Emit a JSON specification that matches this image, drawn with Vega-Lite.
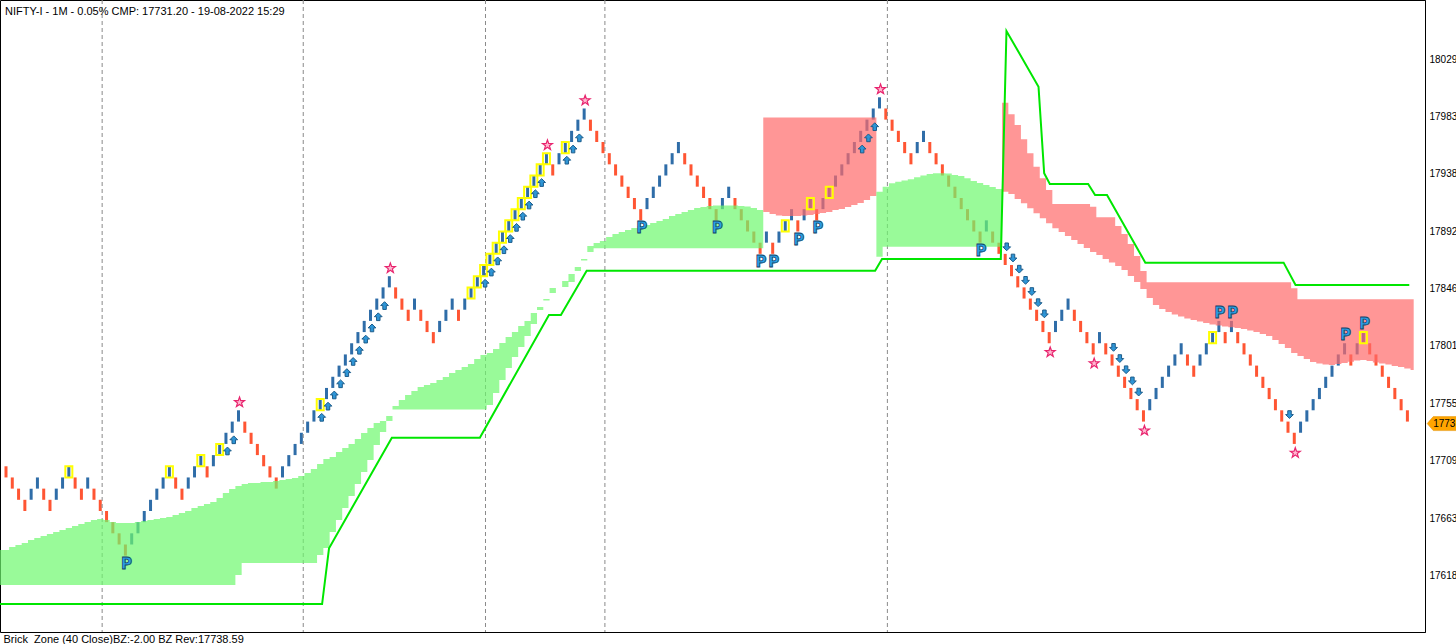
{
 "$schema": "https://vega.github.io/schema/vega-lite/v6.json",
 "width": 1425,
 "height": 632,
 "autosize": {"type": "none"},
 "padding": {"left": 0, "top": 0, "right": 31, "bottom": 12},
 "background": "#ffffff",
 "title": {"text": "NIFTY-I - 1M - 0.05% CMP: 17731.20 - 19-08-2022 15:29", "anchor": "start", "frame": "group", "orient": "top", "offset": 0, "baseline": "top", "dy": 17, "dx": 5, "font": "Liberation Sans", "fontSize": 11, "fontWeight": "normal", "color": "#000000"},
 "config": {"view": {"stroke": "#000000", "strokeWidth": 1}},
 "datasets": {
  "seps": [{"i": 15.3}, {"i": 47.3}, {"i": 76.3}, {"i": 95.3}, {"i": 140.25}],
  "cmp": [{"i": 227.1, "v": 17738.59, "t": "1773"}],
  "line": [{"i":-1,"v":17594.9},{"i":50.3,"v":17594.9},{"i":51.4,"v":17639.3},{"i":61.4,"v":17727.4},{"i":75.4,"v":17727.4},{"i":86.4,"v":17825.1},{"i":88.3,"v":17825.1},{"i":92.4,"v":17860.4},{"i":138.3,"v":17860.4},{"i":139.4,"v":17869.7},{"i":158.3,"v":17869.7},{"i":159.2,"v":18051.3},{"i":164.3,"v":18006.9},{"i":165.2,"v":17938.0},{"i":166.1,"v":17929.4},{"i":172.2,"v":17929.4},{"i":173.3,"v":17920.7},{"i":175.2,"v":17920.7},{"i":181.3,"v":17866.8},{"i":203.3,"v":17866.8},{"i":205.2,"v":17849.0},{"i":223.3,"v":17849.0}],
  "bricks": [
{"i":0,"o":17704.6,"c":17695.7},{"i":1,"o":17695.7,"c":17686.8},{"i":2,"o":17686.8,"c":17677.9},{"i":3,"o":17677.9,"c":17669.0},{"i":4,"o":17677.9,"c":17686.8},{"i":5,"o":17686.8,"c":17695.7},{"i":6,"o":17686.8,"c":17677.9},{"i":7,"o":17677.9,"c":17669.0},{"i":8,"o":17677.9,"c":17686.8},{"i":9,"o":17686.8,"c":17695.7},
{"i":10,"o":17695.7,"c":17704.6,"b":1},{"i":11,"o":17695.7,"c":17686.8},{"i":12,"o":17686.8,"c":17677.9},{"i":13,"o":17686.8,"c":17695.7},{"i":14,"o":17686.8,"c":17677.9},{"i":15,"o":17677.9,"c":17669.0},{"i":16,"o":17669.0,"c":17660.1},{"i":17,"o":17660.1,"c":17651.2},{"i":18,"o":17651.2,"c":17642.3},{"i":19,"o":17642.3,"c":17633.4,"m":"pb"},
{"i":20,"o":17642.3,"c":17651.2},{"i":21,"o":17651.2,"c":17660.1},{"i":22,"o":17660.1,"c":17669.0},{"i":23,"o":17669.0,"c":17677.9},{"i":24,"o":17677.9,"c":17686.8},{"i":25,"o":17686.8,"c":17695.7},{"i":26,"o":17695.7,"c":17704.6,"b":1},{"i":27,"o":17695.7,"c":17686.8},{"i":28,"o":17686.8,"c":17677.9},{"i":29,"o":17686.8,"c":17695.7},
{"i":30,"o":17695.7,"c":17704.6},{"i":31,"o":17704.6,"c":17713.5,"b":1},{"i":32,"o":17704.6,"c":17695.7},{"i":33,"o":17704.6,"c":17713.5},{"i":34,"o":17713.5,"c":17722.4,"b":1},{"i":35,"o":17722.4,"c":17731.3,"m":"ua"},{"i":36,"o":17731.3,"c":17740.2,"m":"ua"},{"i":37,"o":17740.2,"c":17749.2,"m":"st"},{"i":38,"o":17740.2,"c":17731.3},{"i":39,"o":17731.3,"c":17722.4},
{"i":40,"o":17722.4,"c":17713.5},{"i":41,"o":17713.5,"c":17704.6},{"i":42,"o":17704.6,"c":17695.7},{"i":43,"o":17695.7,"c":17686.8},{"i":44,"o":17695.7,"c":17704.6},{"i":45,"o":17704.6,"c":17713.5},{"i":46,"o":17713.5,"c":17722.4},{"i":47,"o":17722.4,"c":17731.3},{"i":48,"o":17731.3,"c":17740.2},{"i":49,"o":17740.2,"c":17749.2},
{"i":50,"o":17749.2,"c":17758.1,"b":1,"m":"ua"},{"i":51,"o":17758.1,"c":17767.0,"m":"ua"},{"i":52,"o":17767.0,"c":17775.9,"m":"ua"},{"i":53,"o":17775.9,"c":17784.8,"m":"ua"},{"i":54,"o":17784.8,"c":17793.7,"m":"ua"},{"i":55,"o":17793.7,"c":17802.6,"m":"ua"},{"i":56,"o":17802.6,"c":17811.5,"m":"ua"},{"i":57,"o":17811.5,"c":17820.4,"m":"ua"},{"i":58,"o":17820.4,"c":17829.3,"m":"ua"},{"i":59,"o":17829.3,"c":17838.2,"m":"ua"},
{"i":60,"o":17838.2,"c":17847.1,"m":"ua"},{"i":61,"o":17847.1,"c":17856.0,"m":"st"},{"i":62,"o":17847.1,"c":17838.2},{"i":63,"o":17838.2,"c":17829.3},{"i":64,"o":17829.3,"c":17820.4},{"i":65,"o":17829.3,"c":17838.2},{"i":66,"o":17829.3,"c":17820.4},{"i":67,"o":17820.4,"c":17811.5},{"i":68,"o":17811.5,"c":17802.6},{"i":69,"o":17811.5,"c":17820.4},
{"i":70,"o":17820.4,"c":17829.3},{"i":71,"o":17829.3,"c":17838.2},{"i":72,"o":17829.3,"c":17820.4},{"i":73,"o":17829.3,"c":17838.2},{"i":74,"o":17838.2,"c":17847.1,"b":1},{"i":75,"o":17847.1,"c":17856.0,"b":1},{"i":76,"o":17856.0,"c":17864.9,"b":1,"m":"ua"},{"i":77,"o":17864.9,"c":17873.8,"b":1,"m":"ua"},{"i":78,"o":17873.8,"c":17882.7,"b":1,"m":"ua"},{"i":79,"o":17882.7,"c":17891.6,"b":1,"m":"ua"},
{"i":80,"o":17891.6,"c":17900.5,"b":1,"m":"ua"},{"i":81,"o":17900.5,"c":17909.4,"b":1,"m":"ua"},{"i":82,"o":17909.4,"c":17918.3,"b":1,"m":"ua"},{"i":83,"o":17918.3,"c":17927.3,"b":1,"m":"ua"},{"i":84,"o":17927.3,"c":17936.2,"b":1,"m":"ua"},{"i":85,"o":17936.2,"c":17945.1,"b":1,"m":"ua"},{"i":86,"o":17945.1,"c":17954.0,"b":1,"m":"st"},{"i":87,"o":17945.1,"c":17936.2},{"i":88,"o":17945.1,"c":17954.0},{"i":89,"o":17954.0,"c":17962.9,"b":1,"m":"ua"},
{"i":90,"o":17962.9,"c":17971.8,"m":"ua"},{"i":91,"o":17971.8,"c":17980.7,"m":"ua"},{"i":92,"o":17980.7,"c":17989.6,"m":"st"},{"i":93,"o":17980.7,"c":17971.8},{"i":94,"o":17971.8,"c":17962.9},{"i":95,"o":17962.9,"c":17954.0},{"i":96,"o":17954.0,"c":17945.1},{"i":97,"o":17945.1,"c":17936.2},{"i":98,"o":17936.2,"c":17927.3},{"i":99,"o":17927.3,"c":17918.3},
{"i":100,"o":17918.3,"c":17909.4},{"i":101,"o":17909.4,"c":17900.5,"m":"pb"},{"i":102,"o":17909.4,"c":17918.3},{"i":103,"o":17918.3,"c":17927.3},{"i":104,"o":17927.3,"c":17936.2},{"i":105,"o":17936.2,"c":17945.1},{"i":106,"o":17945.1,"c":17954.0},{"i":107,"o":17954.0,"c":17962.9},{"i":108,"o":17954.0,"c":17945.1},{"i":109,"o":17945.1,"c":17936.2},
{"i":110,"o":17936.2,"c":17927.3},{"i":111,"o":17927.3,"c":17918.3},{"i":112,"o":17918.3,"c":17909.4},{"i":113,"o":17909.4,"c":17900.5,"m":"pb"},{"i":114,"o":17909.4,"c":17918.3},{"i":115,"o":17918.3,"c":17927.3},{"i":116,"o":17918.3,"c":17909.4},{"i":117,"o":17909.4,"c":17900.5},{"i":118,"o":17900.5,"c":17891.6},{"i":119,"o":17891.6,"c":17882.7},
{"i":120,"o":17882.7,"c":17873.8,"m":"pb"},{"i":121,"o":17882.7,"c":17891.6},{"i":122,"o":17882.7,"c":17873.8,"m":"pb"},{"i":123,"o":17882.7,"c":17891.6},{"i":124,"o":17891.6,"c":17900.5,"b":1},{"i":125,"o":17900.5,"c":17909.4},{"i":126,"o":17900.5,"c":17891.6,"m":"pb"},{"i":127,"o":17900.5,"c":17909.4},{"i":128,"o":17909.4,"c":17918.3,"b":1},{"i":129,"o":17909.4,"c":17900.5,"m":"pb"},
{"i":130,"o":17909.4,"c":17918.3},{"i":131,"o":17918.3,"c":17927.3,"b":1},{"i":132,"o":17927.3,"c":17936.2},{"i":133,"o":17936.2,"c":17945.1},{"i":134,"o":17945.1,"c":17954.0},{"i":135,"o":17954.0,"c":17962.9},{"i":136,"o":17962.9,"c":17971.8,"m":"ua"},{"i":137,"o":17971.8,"c":17980.7,"m":"ua"},{"i":138,"o":17980.7,"c":17989.6,"m":"ua"},{"i":139,"o":17989.6,"c":17998.5,"m":"st"},
{"i":140,"o":17989.6,"c":17980.7},{"i":141,"o":17980.7,"c":17971.8},{"i":142,"o":17971.8,"c":17962.9},{"i":143,"o":17962.9,"c":17954.0},{"i":144,"o":17954.0,"c":17945.1},{"i":145,"o":17954.0,"c":17962.9},{"i":146,"o":17962.9,"c":17971.8},{"i":147,"o":17962.9,"c":17954.0},{"i":148,"o":17954.0,"c":17945.1},{"i":149,"o":17945.1,"c":17936.2},
{"i":150,"o":17936.2,"c":17927.3},{"i":151,"o":17927.3,"c":17918.3},{"i":152,"o":17918.3,"c":17909.4},{"i":153,"o":17909.4,"c":17900.5},{"i":154,"o":17900.5,"c":17891.6},{"i":155,"o":17891.6,"c":17882.7,"m":"pb"},{"i":156,"o":17891.6,"c":17900.5},{"i":157,"o":17891.6,"c":17882.7},{"i":158,"o":17882.7,"c":17873.8},{"i":159,"o":17873.8,"c":17864.9,"m":"da"},
{"i":160,"o":17864.9,"c":17856.0,"m":"da"},{"i":161,"o":17856.0,"c":17847.1,"m":"da"},{"i":162,"o":17847.1,"c":17838.2,"m":"da"},{"i":163,"o":17838.2,"c":17829.3,"m":"da"},{"i":164,"o":17829.3,"c":17820.4,"m":"da"},{"i":165,"o":17820.4,"c":17811.5,"m":"da"},{"i":166,"o":17811.5,"c":17802.6,"m":"sb"},{"i":167,"o":17811.5,"c":17820.4},{"i":168,"o":17820.4,"c":17829.3},{"i":169,"o":17829.3,"c":17838.2},
{"i":170,"o":17829.3,"c":17820.4},{"i":171,"o":17820.4,"c":17811.5},{"i":172,"o":17811.5,"c":17802.6},{"i":173,"o":17802.6,"c":17793.7,"m":"sb"},{"i":174,"o":17802.6,"c":17811.5},{"i":175,"o":17802.6,"c":17793.7},{"i":176,"o":17793.7,"c":17784.8,"m":"da"},{"i":177,"o":17784.8,"c":17775.9,"m":"da"},{"i":178,"o":17775.9,"c":17767.0,"m":"da"},{"i":179,"o":17767.0,"c":17758.1,"m":"da"},
{"i":180,"o":17758.1,"c":17749.2,"m":"da"},{"i":181,"o":17749.2,"c":17740.2,"m":"sb"},{"i":182,"o":17749.2,"c":17758.1},{"i":183,"o":17758.1,"c":17767.0},{"i":184,"o":17767.0,"c":17775.9},{"i":185,"o":17775.9,"c":17784.8},{"i":186,"o":17784.8,"c":17793.7},{"i":187,"o":17793.7,"c":17802.6},{"i":188,"o":17793.7,"c":17784.8},{"i":189,"o":17784.8,"c":17775.9},
{"i":190,"o":17784.8,"c":17793.7},{"i":191,"o":17793.7,"c":17802.6},{"i":192,"o":17802.6,"c":17811.5,"b":1},{"i":193,"o":17811.5,"c":17820.4,"m":"pt"},{"i":194,"o":17811.5,"c":17802.6},{"i":195,"o":17811.5,"c":17820.4,"m":"pt"},{"i":196,"o":17811.5,"c":17802.6},{"i":197,"o":17802.6,"c":17793.7},{"i":198,"o":17793.7,"c":17784.8},{"i":199,"o":17784.8,"c":17775.9},
{"i":200,"o":17775.9,"c":17767.0},{"i":201,"o":17767.0,"c":17758.1},{"i":202,"o":17758.1,"c":17749.2},{"i":203,"o":17749.2,"c":17740.2},{"i":204,"o":17740.2,"c":17731.3,"m":"da"},{"i":205,"o":17731.3,"c":17722.4,"m":"sb"},{"i":206,"o":17731.3,"c":17740.2},{"i":207,"o":17740.2,"c":17749.2},{"i":208,"o":17749.2,"c":17758.1},{"i":209,"o":17758.1,"c":17767.0},
{"i":210,"o":17767.0,"c":17775.9},{"i":211,"o":17775.9,"c":17784.8},{"i":212,"o":17784.8,"c":17793.7},{"i":213,"o":17793.7,"c":17802.6,"m":"pt"},{"i":214,"o":17793.7,"c":17784.8},{"i":215,"o":17793.7,"c":17802.6},{"i":216,"o":17802.6,"c":17811.5,"b":1,"m":"pt"},{"i":217,"o":17802.6,"c":17793.7},{"i":218,"o":17793.7,"c":17784.8},{"i":219,"o":17784.8,"c":17775.9},
{"i":220,"o":17775.9,"c":17767.0},{"i":221,"o":17767.0,"c":17758.1},{"i":222,"o":17758.1,"c":17749.2},{"i":223,"o":17749.2,"c":17740.2}
  ],
  "zones": [
{"i":-1,"lo":17610.0,"hi":17637.9,"z":"g","s":1},{"i":0,"lo":17610.0,"hi":17637.9,"z":"g","s":1},{"i":1,"lo":17610.0,"hi":17640.3,"z":"g","s":1},{"i":2,"lo":17610.0,"hi":17641.9,"z":"g","s":1},{"i":3,"lo":17610.0,"hi":17643.5,"z":"g","s":1},{"i":4,"lo":17610.0,"hi":17645.9,"z":"g","s":1},{"i":5,"lo":17610.0,"hi":17647.5,"z":"g","s":1},{"i":6,"lo":17610.0,"hi":17649.1,"z":"g","s":1},{"i":7,"lo":17610.0,"hi":17650.7,"z":"g","s":1},{"i":8,"lo":17610.0,"hi":17652.3,"z":"g","s":1},{"i":9,"lo":17610.0,"hi":17653.9,"z":"g","s":1},
{"i":10,"lo":17610.0,"hi":17655.4,"z":"g","s":1},{"i":11,"lo":17610.0,"hi":17657.0,"z":"g","s":1},{"i":12,"lo":17610.0,"hi":17658.6,"z":"g","s":1},{"i":13,"lo":17610.0,"hi":17660.2,"z":"g","s":1},{"i":14,"lo":17610.0,"hi":17661.8,"z":"g","s":1},{"i":15,"lo":17610.0,"hi":17662.6,"z":"g","s":1},{"i":16,"lo":17610.0,"hi":17661.8,"z":"g","s":1},{"i":17,"lo":17610.0,"hi":17660.2,"z":"g","s":1},{"i":18,"lo":17610.0,"hi":17659.4,"z":"g","s":1},{"i":19,"lo":17610.0,"hi":17659.4,"z":"g","s":1},
{"i":20,"lo":17610.0,"hi":17659.4,"z":"g","s":1},{"i":21,"lo":17610.0,"hi":17660.2,"z":"g","s":1},{"i":22,"lo":17610.0,"hi":17661.0,"z":"g","s":1},{"i":23,"lo":17610.0,"hi":17661.8,"z":"g","s":1},{"i":24,"lo":17610.0,"hi":17662.6,"z":"g","s":1},{"i":25,"lo":17610.0,"hi":17663.4,"z":"g","s":1},{"i":26,"lo":17610.0,"hi":17664.2,"z":"g","s":1},{"i":27,"lo":17610.0,"hi":17665.8,"z":"g","s":1},{"i":28,"lo":17610.0,"hi":17667.4,"z":"g","s":1},{"i":29,"lo":17610.0,"hi":17669.0,"z":"g","s":1},
{"i":30,"lo":17610.0,"hi":17671.4,"z":"g","s":1},{"i":31,"lo":17610.0,"hi":17673.0,"z":"g","s":1},{"i":32,"lo":17610.0,"hi":17674.6,"z":"g","s":1},{"i":33,"lo":17610.0,"hi":17676.2,"z":"g","s":1},{"i":34,"lo":17610.0,"hi":17679.3,"z":"g","s":1},{"i":35,"lo":17610.0,"hi":17683.3,"z":"g","s":1},{"i":36,"lo":17610.0,"hi":17686.5,"z":"g","s":1},{"i":37,"lo":17618.0,"hi":17688.9,"z":"g","s":1},{"i":38,"lo":17627.6,"hi":17690.5,"z":"g","s":1},{"i":39,"lo":17627.6,"hi":17691.3,"z":"g","s":1},
{"i":40,"lo":17627.6,"hi":17691.3,"z":"g","s":1},{"i":41,"lo":17627.6,"hi":17692.1,"z":"g","s":1},{"i":42,"lo":17627.6,"hi":17692.1,"z":"g","s":1},{"i":43,"lo":17627.6,"hi":17692.9,"z":"g","s":1},{"i":44,"lo":17627.6,"hi":17693.7,"z":"g","s":1},{"i":45,"lo":17627.6,"hi":17694.5,"z":"g","s":1},{"i":46,"lo":17627.6,"hi":17695.3,"z":"g","s":1},{"i":47,"lo":17627.6,"hi":17696.9,"z":"g","s":1},{"i":48,"lo":17627.6,"hi":17699.3,"z":"g","s":1},{"i":49,"lo":17627.6,"hi":17702.4,"z":"g","s":1},
{"i":50,"lo":17633.9,"hi":17706.4,"z":"g","s":1},{"i":51,"lo":17639.5,"hi":17710.4,"z":"g","s":1},{"i":52,"lo":17652.3,"hi":17712.0,"z":"g","s":1},{"i":53,"lo":17661.8,"hi":17716.0,"z":"g","s":1},{"i":54,"lo":17671.4,"hi":17719.2,"z":"g","s":1},{"i":55,"lo":17680.9,"hi":17722.4,"z":"g","s":1},{"i":56,"lo":17690.5,"hi":17726.3,"z":"g","s":1},{"i":57,"lo":17700.1,"hi":17731.1,"z":"g","s":1},{"i":58,"lo":17709.6,"hi":17735.1,"z":"g","s":1},{"i":59,"lo":17721.6,"hi":17739.1,"z":"g","s":1},
{"i":60,"lo":17731.9,"hi":17740.7,"z":"g","s":1},{"i":61,"lo":17740.7,"hi":17744.7,"z":"g","s":1},{"i":62,"lo":17749.8,"hi":17752.6,"z":"g","s":1},{"i":63,"lo":17749.8,"hi":17757.4,"z":"g","s":1},{"i":64,"lo":17749.8,"hi":17761.4,"z":"g","s":1},{"i":65,"lo":17749.8,"hi":17764.6,"z":"g","s":1},{"i":66,"lo":17749.8,"hi":17767.8,"z":"g","s":1},{"i":67,"lo":17749.8,"hi":17769.3,"z":"g","s":1},{"i":68,"lo":17749.8,"hi":17770.9,"z":"g","s":1},{"i":69,"lo":17749.8,"hi":17773.3,"z":"g","s":1},
{"i":70,"lo":17749.8,"hi":17775.7,"z":"g","s":1},{"i":71,"lo":17749.8,"hi":17778.9,"z":"g","s":1},{"i":72,"lo":17749.8,"hi":17781.3,"z":"g","s":1},{"i":73,"lo":17749.8,"hi":17783.7,"z":"g","s":1},{"i":74,"lo":17749.8,"hi":17786.1,"z":"g","s":1},{"i":75,"lo":17749.8,"hi":17790.1,"z":"g","s":1},{"i":76,"lo":17749.8,"hi":17793.2,"z":"g","s":1},{"i":77,"lo":17753.4,"hi":17794.8,"z":"g","s":1},{"i":78,"lo":17763.0,"hi":17798.0,"z":"g","s":1},{"i":79,"lo":17773.3,"hi":17802.8,"z":"g","s":1},
{"i":80,"lo":17782.9,"hi":17807.6,"z":"g","s":1},{"i":81,"lo":17791.6,"hi":17811.6,"z":"g","s":1},{"i":82,"lo":17799.6,"hi":17816.3,"z":"g","s":1},{"i":83,"lo":17808.4,"hi":17820.3,"z":"g","s":1},{"i":84,"lo":17817.9,"hi":17826.7,"z":"g","s":1},{"i":85,"lo":17829.1,"hi":17831.5,"z":"g","s":1},{"i":86,"lo":17836.6,"hi":17837.8,"z":"g","s":1},{"i":87,"lo":17842.6,"hi":17846.6,"z":"g","s":1},{"i":87.5,"lo":17842.6,"hi":17846.6,"z":"g","s":1},
{"i":88.5,"lo":17847.4,"hi":17852.2,"z":"g","s":2},{"i":89,"lo":17847.4,"hi":17852.2,"z":"g","s":2},{"i":90,"lo":17851.4,"hi":17857.8,"z":"g","s":2},{"i":91,"lo":17860.1,"hi":17863.3,"z":"g","s":2},{"i":92,"lo":17868.5,"hi":17869.7,"z":"g","s":2},{"i":93,"lo":17875.3,"hi":17880.1,"z":"g","s":2},{"i":94,"lo":17878.2,"hi":17882.5,"z":"g","s":2},{"i":95,"lo":17878.2,"hi":17884.0,"z":"g","s":2},{"i":96,"lo":17878.2,"hi":17887.2,"z":"g","s":2},{"i":97,"lo":17878.2,"hi":17889.6,"z":"g","s":2},{"i":98,"lo":17878.2,"hi":17891.2,"z":"g","s":2},{"i":99,"lo":17878.2,"hi":17892.8,"z":"g","s":2},
{"i":100,"lo":17878.2,"hi":17894.4,"z":"g","s":2},{"i":101,"lo":17878.2,"hi":17896.0,"z":"g","s":2},{"i":102,"lo":17878.2,"hi":17896.8,"z":"g","s":2},{"i":103,"lo":17878.2,"hi":17898.4,"z":"g","s":2},{"i":104,"lo":17878.2,"hi":17900.0,"z":"g","s":2},{"i":105,"lo":17878.2,"hi":17901.6,"z":"g","s":2},{"i":106,"lo":17878.2,"hi":17904.0,"z":"g","s":2},{"i":107,"lo":17878.2,"hi":17905.5,"z":"g","s":2},{"i":108,"lo":17878.2,"hi":17907.1,"z":"g","s":2},{"i":109,"lo":17878.2,"hi":17908.7,"z":"g","s":2},
{"i":110,"lo":17878.2,"hi":17910.3,"z":"g","s":2},{"i":111,"lo":17878.2,"hi":17911.1,"z":"g","s":2},{"i":112,"lo":17878.2,"hi":17911.9,"z":"g","s":2},{"i":113,"lo":17878.2,"hi":17912.3,"z":"g","s":2},{"i":114,"lo":17878.2,"hi":17912.3,"z":"g","s":2},{"i":115,"lo":17878.2,"hi":17912.3,"z":"g","s":2},{"i":116,"lo":17878.2,"hi":17912.3,"z":"g","s":2},{"i":117,"lo":17878.2,"hi":17911.9,"z":"g","s":2},{"i":118,"lo":17878.2,"hi":17911.5,"z":"g","s":2},{"i":119,"lo":17878.2,"hi":17910.3,"z":"g","s":2},{"i":120,"lo":17878.2,"hi":17908.7,"z":"g","s":2},{"i":120.5,"lo":17878.2,"hi":17908.7,"z":"g","s":2},
{"i":120.5,"lo":17907.1,"hi":17982.4,"z":"r","s":3},{"i":121,"lo":17907.1,"hi":17982.4,"z":"r","s":3},{"i":122,"lo":17905.5,"hi":17982.4,"z":"r","s":3},{"i":123,"lo":17904.4,"hi":17982.4,"z":"r","s":3},{"i":124,"lo":17904.0,"hi":17982.4,"z":"r","s":3},{"i":125,"lo":17904.0,"hi":17982.4,"z":"r","s":3},{"i":126,"lo":17904.0,"hi":17982.4,"z":"r","s":3},{"i":127,"lo":17904.4,"hi":17982.4,"z":"r","s":3},{"i":128,"lo":17904.8,"hi":17982.4,"z":"r","s":3},{"i":129,"lo":17905.5,"hi":17982.4,"z":"r","s":3},
{"i":130,"lo":17906.3,"hi":17982.4,"z":"r","s":3},{"i":131,"lo":17907.1,"hi":17982.4,"z":"r","s":3},{"i":132,"lo":17908.7,"hi":17982.4,"z":"r","s":3},{"i":133,"lo":17909.5,"hi":17982.4,"z":"r","s":3},{"i":134,"lo":17911.1,"hi":17982.4,"z":"r","s":3},{"i":135,"lo":17912.7,"hi":17982.4,"z":"r","s":3},{"i":136,"lo":17914.3,"hi":17982.4,"z":"r","s":3},{"i":137,"lo":17916.7,"hi":17982.4,"z":"r","s":3},{"i":138,"lo":17919.9,"hi":17982.4,"z":"r","s":3},{"i":138.5,"lo":17919.9,"hi":17982.4,"z":"r","s":3},
{"i":138.5,"lo":17871.5,"hi":17923.3,"z":"g","s":4},{"i":139,"lo":17871.5,"hi":17923.3,"z":"g","s":4},{"i":140,"lo":17879.5,"hi":17927.3,"z":"g","s":4},{"i":141,"lo":17879.5,"hi":17930.0,"z":"g","s":4},{"i":142,"lo":17879.5,"hi":17931.3,"z":"g","s":4},{"i":143,"lo":17879.5,"hi":17932.2,"z":"g","s":4},{"i":144,"lo":17879.5,"hi":17933.2,"z":"g","s":4},{"i":145,"lo":17879.5,"hi":17934.8,"z":"g","s":4},{"i":146,"lo":17879.5,"hi":17936.2,"z":"g","s":4},{"i":147,"lo":17879.5,"hi":17937.4,"z":"g","s":4},{"i":148,"lo":17879.5,"hi":17938.0,"z":"g","s":4},{"i":149,"lo":17879.5,"hi":17938.0,"z":"g","s":4},
{"i":150,"lo":17879.5,"hi":17937.8,"z":"g","s":4},{"i":151,"lo":17879.5,"hi":17936.6,"z":"g","s":4},{"i":152,"lo":17879.5,"hi":17935.8,"z":"g","s":4},{"i":153,"lo":17879.5,"hi":17934.0,"z":"g","s":4},{"i":154,"lo":17879.5,"hi":17931.8,"z":"g","s":4},{"i":155,"lo":17879.5,"hi":17930.2,"z":"g","s":4},{"i":156,"lo":17879.5,"hi":17928.6,"z":"g","s":4},{"i":157,"lo":17879.5,"hi":17927.1,"z":"g","s":4},{"i":158,"lo":17879.5,"hi":17925.5,"z":"g","s":4},{"i":158.5,"lo":17879.5,"hi":17925.5,"z":"g","s":4},
{"i":158.5,"lo":17923.3,"hi":17994.2,"z":"r","s":5},{"i":159,"lo":17923.3,"hi":17994.2,"z":"r","s":5},{"i":160,"lo":17921.5,"hi":17985.0,"z":"r","s":5},{"i":161,"lo":17917.5,"hi":17976.4,"z":"r","s":5},{"i":162,"lo":17914.1,"hi":17965.0,"z":"r","s":5},{"i":163,"lo":17910.1,"hi":17953.9,"z":"r","s":5},{"i":164,"lo":17906.1,"hi":17943.2,"z":"r","s":5},{"i":165,"lo":17902.1,"hi":17934.0,"z":"r","s":5},{"i":166,"lo":17898.1,"hi":17924.7,"z":"r","s":5},{"i":167,"lo":17894.2,"hi":17913.5,"z":"r","s":5},{"i":168,"lo":17891.2,"hi":17913.5,"z":"r","s":5},{"i":169,"lo":17888.0,"hi":17913.5,"z":"r","s":5},
{"i":170,"lo":17884.8,"hi":17913.5,"z":"r","s":5},{"i":171,"lo":17881.7,"hi":17913.5,"z":"r","s":5},{"i":172,"lo":17878.5,"hi":17913.5,"z":"r","s":5},{"i":173,"lo":17875.3,"hi":17911.4,"z":"r","s":5},{"i":174,"lo":17872.9,"hi":17902.9,"z":"r","s":5},{"i":175,"lo":17869.7,"hi":17902.9,"z":"r","s":5},{"i":176,"lo":17866.9,"hi":17902.9,"z":"r","s":5},{"i":177,"lo":17864.1,"hi":17896.0,"z":"r","s":5},{"i":178,"lo":17860.9,"hi":17889.6,"z":"r","s":5},{"i":179,"lo":17856.2,"hi":17881.7,"z":"r","s":5},
{"i":180,"lo":17851.4,"hi":17872.1,"z":"r","s":5},{"i":181,"lo":17845.8,"hi":17860.1,"z":"r","s":5},{"i":182,"lo":17838.6,"hi":17851.1,"z":"r","s":5},{"i":183,"lo":17833.1,"hi":17851.1,"z":"r","s":5},{"i":184,"lo":17829.9,"hi":17851.1,"z":"r","s":5},{"i":185,"lo":17827.5,"hi":17851.1,"z":"r","s":5},{"i":186,"lo":17825.5,"hi":17851.1,"z":"r","s":5},{"i":187,"lo":17823.9,"hi":17851.1,"z":"r","s":5},{"i":188,"lo":17822.3,"hi":17851.1,"z":"r","s":5},{"i":189,"lo":17821.1,"hi":17851.1,"z":"r","s":5},
{"i":190,"lo":17819.9,"hi":17851.1,"z":"r","s":5},{"i":191,"lo":17818.7,"hi":17851.1,"z":"r","s":5},{"i":192,"lo":17817.5,"hi":17851.1,"z":"r","s":5},{"i":193,"lo":17816.7,"hi":17851.1,"z":"r","s":5},{"i":194,"lo":17815.9,"hi":17851.1,"z":"r","s":5},{"i":195,"lo":17815.3,"hi":17851.1,"z":"r","s":5},{"i":196,"lo":17814.7,"hi":17851.1,"z":"r","s":5},{"i":197,"lo":17814.0,"hi":17851.1,"z":"r","s":5},{"i":198,"lo":17812.8,"hi":17851.1,"z":"r","s":5},{"i":199,"lo":17811.6,"hi":17851.1,"z":"r","s":5},
{"i":200,"lo":17810.0,"hi":17851.1,"z":"r","s":5},{"i":201,"lo":17808.4,"hi":17851.1,"z":"r","s":5},{"i":202,"lo":17805.2,"hi":17851.1,"z":"r","s":5},{"i":203,"lo":17802.0,"hi":17851.1,"z":"r","s":5},{"i":204,"lo":17798.8,"hi":17851.1,"z":"r","s":5},{"i":205,"lo":17794.8,"hi":17846.4,"z":"r","s":5},{"i":206,"lo":17792.4,"hi":17837.6,"z":"r","s":5},{"i":207,"lo":17790.1,"hi":17837.6,"z":"r","s":5},{"i":208,"lo":17787.7,"hi":17837.6,"z":"r","s":5},{"i":209,"lo":17786.5,"hi":17837.6,"z":"r","s":5},
{"i":210,"lo":17785.7,"hi":17837.6,"z":"r","s":5},{"i":211,"lo":17785.3,"hi":17837.6,"z":"r","s":5},{"i":212,"lo":17786.1,"hi":17837.6,"z":"r","s":5},{"i":213,"lo":17786.9,"hi":17837.6,"z":"r","s":5},{"i":214,"lo":17787.9,"hi":17837.6,"z":"r","s":5},{"i":215,"lo":17788.9,"hi":17837.6,"z":"r","s":5},{"i":216,"lo":17789.3,"hi":17837.6,"z":"r","s":5},{"i":217,"lo":17788.5,"hi":17837.6,"z":"r","s":5},{"i":218,"lo":17787.3,"hi":17837.6,"z":"r","s":5},{"i":219,"lo":17786.5,"hi":17837.6,"z":"r","s":5},
{"i":220,"lo":17785.7,"hi":17837.6,"z":"r","s":5},{"i":221,"lo":17784.5,"hi":17837.6,"z":"r","s":5},{"i":222,"lo":17783.7,"hi":17837.6,"z":"r","s":5},{"i":223,"lo":17782.5,"hi":17837.6,"z":"r","s":5},{"i":224,"lo":17781.3,"hi":17837.6,"z":"r","s":5}
  ]
 },
 "encoding": {
  "x": {"field": "i", "type": "quantitative", "scale": {"domain": [-0.955, 225.8], "nice": false, "zero": false, "padding": 0},
        "axis": {"orient": "bottom", "labels": false, "ticks": false, "domain": false, "grid": false, "title": "Brick_Zone (40 Close)BZ:-2.00 BZ Rev:17738.59", "titleFont": "Liberation Sans", "titleFontSize": 11, "titleFontWeight": "normal", "titleColor": "#000000", "titleAnchor": "start", "titleAlign": "left", "titleBaseline": "top", "titleX": 3, "titleY": 1}}
 },
 "layer": [
  {"data": {"name": "bricks"},
   "mark": {"type": "bar", "width": 3},
   "encoding": {
    "y": {"field": "o", "type": "quantitative", "title": null, "scale": {"domain": [17572.6, 18076], "nice": false, "zero": false},
          "axis": {"orient": "right", "values": [17618, 17663, 17709, 17755, 17801, 17846, 17892, 17938, 17983, 18029], "format": "d", "labelFont": "Liberation Sans", "labelFontSize": 10, "labelColor": "#000000", "ticks": false, "labelPadding": 4, "domain": true, "domainColor": "#000000", "grid": false}},
    "y2": {"field": "c"},
    "color": {"condition": {"test": "datum.c > datum.o", "value": "#2F6DA8"}, "value": "#FF5533"}
   }},
  {"data": {"name": "seps"},
   "mark": {"type": "rule", "color": "#8A8A8A", "strokeDash": [4, 3], "strokeWidth": 1},
   "encoding": {}},
  {"data": {"name": "zones"},
   "mark": {"type": "area", "interpolate": "step", "opacity": 0.7, "clip": true},
   "encoding": {
    "y": {"field": "lo", "type": "quantitative", "title": null, "stack": null},
    "y2": {"field": "hi"},
    "color": {"field": "z", "type": "nominal", "scale": {"domain": ["g", "r"], "range": ["#6DF86D", "#FF6969"]}, "legend": null},
    "detail": {"field": "s", "type": "nominal"}
   }},
  {"data": {"name": "line"},
   "mark": {"type": "line", "color": "#00E600", "strokeWidth": 2, "clip": true},
   "encoding": {"y": {"field": "v", "type": "quantitative", "title": null}}},
  {"data": {"name": "bricks"},
   "transform": [{"filter": "datum.b == 1"}],
   "mark": {"type": "bar", "width": 7, "filled": false, "color": "#FFFF00", "strokeWidth": 2},
   "encoding": {"y": {"field": "o", "type": "quantitative", "title": null}, "y2": {"field": "c"}}},
  {"data": {"name": "bricks"},
   "transform": [{"filter": "datum.m == 'ua'"}],
   "mark": {"type": "point", "shape": "M0,-1L1,0L0.45,0L0.45,1L-0.45,1L-0.45,0L-1,0Z", "size": 60, "filled": true, "fill": "#2E95D6", "stroke": "#1D5C8A", "strokeWidth": 1, "opacity": 1, "yOffset": 7, "xOffset": 1.5},
   "encoding": {"y": {"field": "o", "type": "quantitative", "title": null}}},
  {"data": {"name": "bricks"},
   "transform": [{"filter": "datum.m == 'da'"}],
   "mark": {"type": "point", "shape": "M0,1L1,0L0.45,0L0.45,-1L-0.45,-1L-0.45,0L-1,0Z", "size": 60, "filled": true, "fill": "#2E95D6", "stroke": "#1D5C8A", "strokeWidth": 1, "opacity": 1, "yOffset": -7, "xOffset": 1.5},
   "encoding": {"y": {"field": "o", "type": "quantitative", "title": null}}},
  {"data": {"name": "bricks"},
   "transform": [{"filter": "datum.m == 'st'"}],
   "mark": {"type": "point", "shape": "M0,-1L0.235,-0.324L0.951,-0.309L0.38,0.124L0.588,0.809L0,0.4L-0.588,0.809L-0.38,0.124L-0.951,-0.309L-0.235,-0.324Z", "size": 110, "filled": true, "fill": "#FFB8D0", "stroke": "#E8246E", "strokeWidth": 1.2, "opacity": 1, "yOffset": -8, "xOffset": 1},
   "encoding": {"y": {"field": "c", "type": "quantitative", "title": null}}},
  {"data": {"name": "bricks"},
   "transform": [{"filter": "datum.m == 'sb'"}],
   "mark": {"type": "point", "shape": "M0,-1L0.235,-0.324L0.951,-0.309L0.38,0.124L0.588,0.809L0,0.4L-0.588,0.809L-0.38,0.124L-0.951,-0.309L-0.235,-0.324Z", "size": 110, "filled": true, "fill": "#FFB8D0", "stroke": "#E8246E", "strokeWidth": 1.2, "opacity": 1, "yOffset": 9, "xOffset": 1},
   "encoding": {"y": {"field": "c", "type": "quantitative", "title": null}}},
  {"data": {"name": "bricks"},
   "transform": [{"filter": "datum.m == 'pb'"}],
   "mark": {"type": "text", "text": "P", "font": "DejaVu Sans", "fontWeight": "bold", "fontSize": 15, "fill": "#2AA0E6", "stroke": "#123F66", "strokeWidth": 0.8, "baseline": "middle", "align": "center", "dy": 8, "dx": 1},
   "encoding": {"y": {"field": "c", "type": "quantitative", "title": null}}},
  {"data": {"name": "bricks"},
   "transform": [{"filter": "datum.m == 'pt'"}],
   "mark": {"type": "text", "text": "P", "font": "DejaVu Sans", "fontWeight": "bold", "fontSize": 15, "fill": "#2AA0E6", "stroke": "#123F66", "strokeWidth": 0.8, "baseline": "middle", "align": "center", "dy": -8, "dx": 1},
   "encoding": {"y": {"field": "c", "type": "quantitative", "title": null}}},
  {"data": {"name": "cmp"},
   "mark": {"type": "point", "shape": "M-1,0L-0.71,-0.333L1,-0.333L1,0.333L-0.71,0.333Z", "size": 1764, "filled": true, "fill": "#FFA500", "stroke": "#E08E00", "strokeWidth": 0.5, "opacity": 1, "xOffset": 15},
   "encoding": {"y": {"field": "v", "type": "quantitative", "title": null}}},
  {"data": {"name": "cmp"},
   "mark": {"type": "text", "font": "Liberation Sans", "fontSize": 10, "color": "#000000", "align": "left", "baseline": "middle"},
   "encoding": {"y": {"field": "v", "type": "quantitative", "title": null}, "text": {"field": "t"}}}
 ]
}
